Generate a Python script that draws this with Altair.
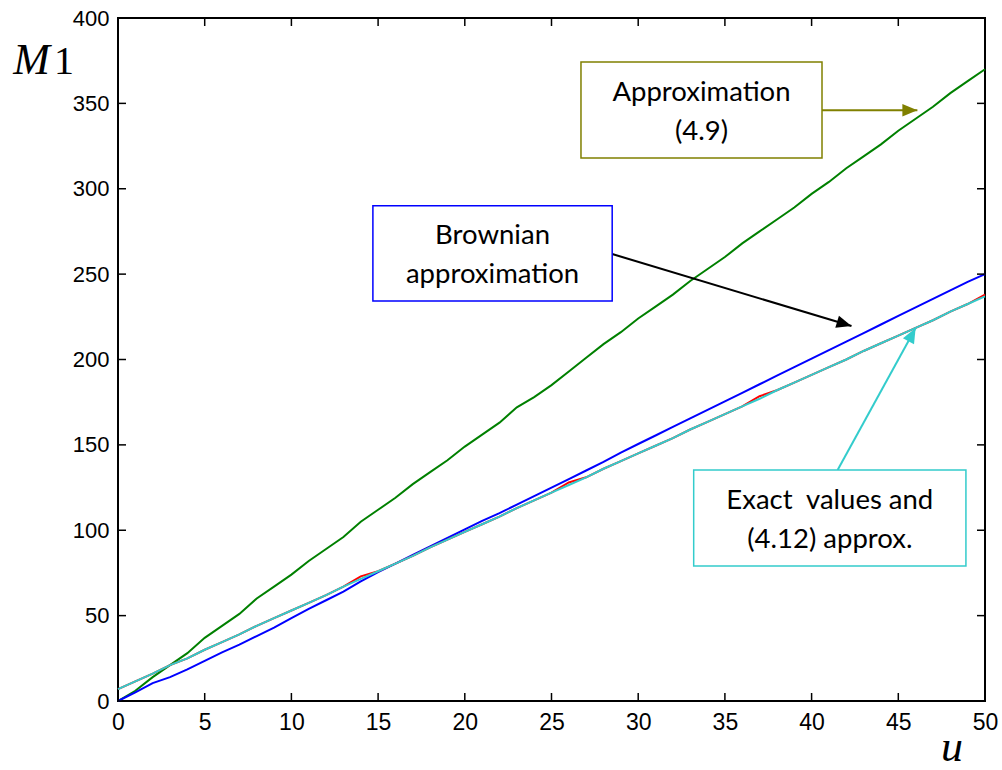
import altair as alt
import pandas as pd

u = list(range(51))
green = [0, 6, 14, 21, 28, 37, 44, 51, 60, 67, 74, 82, 89, 96, 105, 112, 119, 127, 134, 141,
         149, 156, 163, 172, 178, 185, 193, 201, 209, 216, 224, 231, 238, 246, 253, 260, 268,
         275, 282, 289, 297, 304, 312, 319, 326, 334, 341, 348, 356, 363, 370]
blue = [0, 5, 10.5, 14, 18.5, 23.5, 28.5, 33, 38, 43, 48.5, 54, 59, 64, 70, 75.5, 80.5, 85.5,
        90.5, 95.5, 100.5, 105.5, 110, 115, 120, 125, 130, 135, 140, 145.5, 150.5, 155.5, 160.5,
        165.5, 170.5, 175.5, 180.5, 185.5, 190.5, 195.5, 200.5, 205.5, 210.5, 215.5, 220.5,
        225.5, 230.5, 235.5, 240.5, 245.5, 250]
cyan = [7, 11.5, 16, 21, 25, 30, 34.5, 39, 44, 48.5, 53, 57.5, 62, 67, 71.5, 76, 80.5, 85, 90,
        94.5, 99, 103.5, 108, 113, 117.5, 122, 126.5, 131, 136, 140.5, 145, 149.5, 154, 159,
        163.5, 168, 172.5, 177, 182, 186.5, 191, 195.5, 200, 205, 209.5, 214, 218.5, 223, 228,
        232.5, 237]
red = [7, 11.5, 16, 21, 25, 30, 34.5, 39, 44, 48.5, 53, 57.5, 62, 67, 73, 76, 80.5, 85, 90,
       94.5, 99, 103.5, 108, 113, 117.5, 122, 128, 131, 136, 140.5, 145, 149.5, 154, 159,
       163.5, 168, 172.5, 178.5, 182, 186.5, 191, 195.5, 200, 205, 209.5, 214, 218.5, 223, 228,
       232.5, 238]

x_ticks = [0, 5, 10, 15, 20, 25, 30, 35, 40, 45, 50]
y_ticks = [0, 50, 100, 150, 200, 250, 300, 350, 400]

# annotation boxes (data coordinates)
box_x = [26.7, 14.7, 33.2]
box_x2 = [40.6, 28.5, 48.9]
box_y = [374.2, 290.0, 135.3]
box_y2 = [318.0, 234.3, 79.1]
box_col = ["#808000", "#0000FF", "#33CCCC"]
box_text = ["Approximation\n(4.9)", "Brownian\napproximation", "Exact\u00a0 values and\n(4.12) approx."]
box_tx = [33.65, 21.6, 41.05]
box_ty = [346.2, 262.2, 107.2]

arr_x = [40.6, 28.5, 41.5]
arr_y = [346.0, 261.8, 135.3]
arr_x2 = [46.1, 42.3, 46.0]
arr_y2 = [346.0, 219.6, 218.4]
arr_col = ["#808000", "#000000", "#33CCCC"]
arr_angle = [0, 16.8, 298.5]

W, H = 867, 683
xs = alt.Scale(domain=[0, 50], nice=False, zero=False)
ys = alt.Scale(domain=[0, 400], nice=False, zero=False)

df = pd.DataFrame({"u": u, "green": green, "blue": blue, "red": red, "cyan": cyan})


def line(col, color):
    return alt.Chart(df).mark_line(color=color, strokeWidth=2).encode(
        x=alt.X("u:Q", scale=xs, axis=alt.Axis(values=x_ticks, title=None, domain=False, ticks=False,
                                                grid=False, labelFont="Liberation Sans", labelFontSize=23,
                                                labelColor="black", labelPadding=10, labelFlush=False,
                                                labelOverlap=False)),
        y=alt.Y(f"{col}:Q", scale=ys, axis=alt.Axis(values=y_ticks, title=None, domain=False, ticks=False,
                                                     grid=False, labelFont="Liberation Sans", labelFontSize=22,
                                                     labelColor="black", labelPadding=9, labelFlush=False,
                                                     labelOverlap=False)),
    )


lines = [line("green", "#008000"), line("blue", "#0000FF"), line("red", "#FF0000"), line("cyan", "#33CCCC")]

yt = pd.DataFrame({"v": y_ticks})
xt = pd.DataFrame({"v": x_ticks})
tick_l = alt.Chart(yt).mark_rule(color="black", strokeWidth=1.5).encode(
    y=alt.Y("v:Q", scale=ys), x=alt.value(0), x2=alt.value(8))
tick_r = alt.Chart(yt).mark_rule(color="black", strokeWidth=1.5).encode(
    y=alt.Y("v:Q", scale=ys), x=alt.value(W - 8), x2=alt.value(W))
tick_b = alt.Chart(xt).mark_rule(color="black", strokeWidth=1.5).encode(
    x=alt.X("v:Q", scale=xs), y=alt.value(H - 8), y2=alt.value(H))
tick_t = alt.Chart(xt).mark_rule(color="black", strokeWidth=1.5).encode(
    x=alt.X("v:Q", scale=xs), y=alt.value(0), y2=alt.value(8))

bdf = pd.DataFrame({"x": box_x, "x2": box_x2, "y": box_y, "y2": box_y2, "c": box_col,
                    "t": box_text, "tx": box_tx, "ty": box_ty})
boxes = alt.Chart(bdf).mark_rect(fill="white", strokeWidth=1.5).encode(
    x=alt.X("x:Q", scale=xs), x2="x2:Q", y=alt.Y("y:Q", scale=ys), y2="y2:Q",
    stroke=alt.Stroke("c:N", scale=None))
texts = alt.Chart(bdf).mark_text(font="Lato", fontSize=27.5, lineBreak="\n", lineHeight=39, dy=-17,
                                 color="black", align="center", baseline="middle").encode(
    x=alt.X("tx:Q", scale=xs), y=alt.Y("ty:Q", scale=ys), text="t:N")

adf = pd.DataFrame({"x": arr_x, "y": arr_y, "x2": arr_x2, "y2": arr_y2, "c": arr_col, "a": arr_angle})
arrows = alt.Chart(adf).mark_rule(strokeWidth=2).encode(
    x=alt.X("x:Q", scale=xs), y=alt.Y("y:Q", scale=ys), x2="x2:Q", y2="y2:Q",
    color=alt.Color("c:N", scale=None))
heads = alt.Chart(adf).mark_point(shape="M0,0 L-1,-0.42 L-1,0.42 Z", size=900, filled=True, opacity=1).encode(
    x=alt.X("x2:Q", scale=xs), y=alt.Y("y2:Q", scale=ys), angle=alt.Angle("a:Q", scale=None),
    color=alt.Color("c:N", scale=None))

m_lab = alt.Chart(pd.DataFrame({"t": ["M"]})).mark_text(
    font="Liberation Serif", fontStyle="italic", fontSize=44, color="black", align="right", baseline="alphabetic"
).encode(x=alt.value(-68), y=alt.value(56), text="t:N")
one_lab = alt.Chart(pd.DataFrame({"t": ["1"]})).mark_text(
    font="Liberation Serif", fontSize=40, color="black", align="left", baseline="alphabetic"
).encode(x=alt.value(-64), y=alt.value(56), text="t:N")
u_lab = alt.Chart(pd.DataFrame({"t": ["u"]})).mark_text(
    font="Liberation Serif", fontStyle="italic", fontSize=44, color="black", align="center", baseline="middle"
).encode(x=alt.value(834), y=alt.value(730), text="t:N")

chart = alt.layer(
    *lines, tick_l, tick_r, tick_b, tick_t, arrows, heads, boxes, texts, m_lab, one_lab, u_lab
).properties(
    width=W, height=H,
    autosize=alt.AutoSizeParams(type="none"),
    padding={"left": 118, "top": 18, "right": 17, "bottom": 69},
    background="white",
).configure_view(stroke="black", strokeWidth=2)

chart.save("out.html", embed_options={"renderer": "svg", "actions": False})
